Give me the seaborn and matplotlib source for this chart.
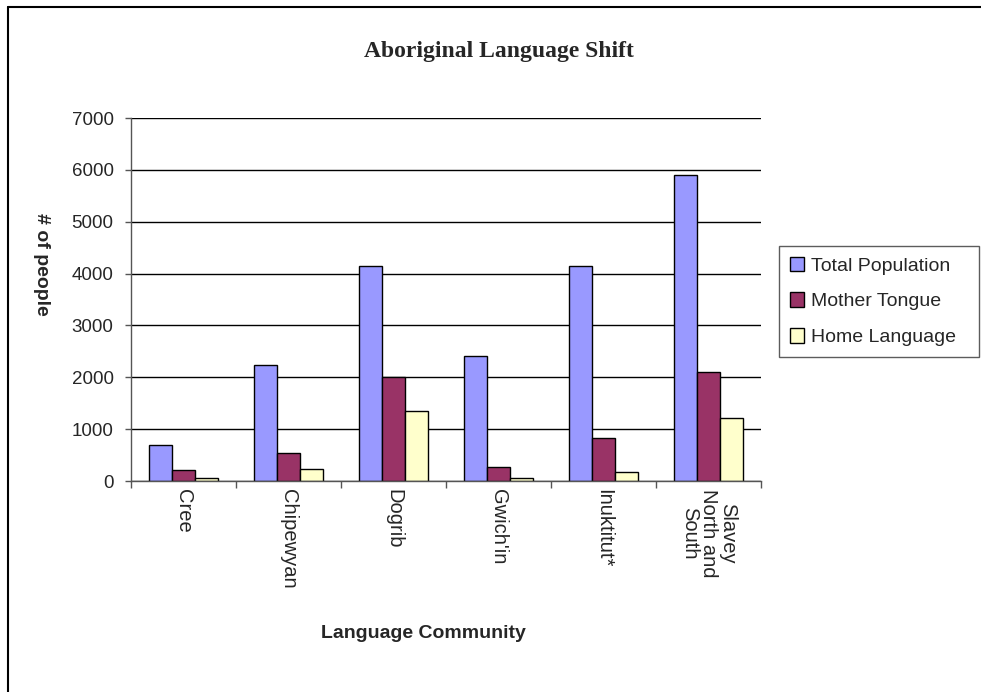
import matplotlib
matplotlib.use("Agg")
import matplotlib.pyplot as plt
import seaborn as sns
import pandas as pd
from matplotlib.lines import Line2D
from matplotlib.ticker import FixedLocator

categories = ["Cree", "Chipewyan", "Dogrib", "Gwich'in", "Inuktitut*", "Slavey\nNorth and\nSouth"]
total_population = [700, 2240, 4150, 2420, 4150, 5900]
mother_tongue = [210, 535, 2000, 265, 835, 2100]
home_language = [50, 230, 1350, 50, 180, 1210]
series_names = ["Total Population", "Mother Tongue", "Home Language"]
colors = ["#9999FF", "#993366", "#FFFFCC"]

rows = []
for s, vals in zip(series_names, [total_population, mother_tongue, home_language]):
    for c, v in zip(categories, vals):
        rows.append({"Language Community": c, "Series": s, "Value": v})
df = pd.DataFrame(rows)

sns.set_theme(style="white")
plt.rcParams['font.family'] = ['Liberation Sans', 'DejaVu Sans']

fig = plt.figure(figsize=(9.81, 6.92), dpi=100)
ax = fig.add_axes([131/981, 1-481/692, (761-131)/981, (481-118)/692])

sns.barplot(data=df, x="Language Community", y="Value", hue="Series",
            palette=colors, order=categories, hue_order=series_names,
            width=0.66, gap=0, edgecolor="black", linewidth=1.0,
            saturation=1, ax=ax, errorbar=None)

ax.set_ylim(0, 7000)
ax.set_xlim(-0.5, len(categories) - 0.5)
ax.set_yticks(range(0, 7001, 1000))
ax.yaxis.grid(True, color="black", linewidth=1.0)
ax.set_axisbelow(True)
for side in ["top", "right"]:
    ax.spines[side].set_visible(False)
for side in ["left", "bottom"]:
    ax.spines[side].set_color("#555555")
    ax.spines[side].set_linewidth(1.0)

ax.tick_params(axis="y", which="major", direction="out", length=4.5, width=1,
               color="#555555", left=True, labelsize=13.5, pad=8)
ax.set_xticks(range(len(categories)))
ax.set_xticklabels(categories, rotation=270, fontsize=14.5, va="top", ha="center",
                   linespacing=1.0)
ax.tick_params(axis="x", which="major", length=0, pad=6)
ax.xaxis.set_minor_locator(FixedLocator([i - 0.5 for i in range(len(categories) + 1)]))
ax.tick_params(axis="x", which="minor", direction="out", length=5, width=1,
               color="#555555", bottom=True)

ax.set_xlabel("")
ax.set_ylabel("")
fig.text(41/981, 1-264/692, "# of people", rotation=270, fontsize=14,
         fontweight="bold", ha="center", va="center")
fig.text(423/981, 1-634/692, "Language Community", fontsize=14,
         fontweight="bold", ha="center", va="center")
fig.text(499/981, 1-51/692, "Aboriginal Language Shift", fontsize=17,
         fontweight="bold", ha="center", va="center",
         family=["Liberation Serif", "DejaVu Serif"])

handles, labels = ax.get_legend_handles_labels()
leg = ax.legend(handles, labels, loc="upper left", mode="expand",
                bbox_to_anchor=(779/981, 1-246/692, 200/981, 0),
                bbox_transform=fig.transFigure,
                frameon=True, fancybox=False, fontsize=14, handlelength=0.75,
                handleheight=0.75, handletextpad=0.35, labelspacing=0.92,
                borderpad=0.55, borderaxespad=0)
leg.get_frame().set_edgecolor("#333333")
leg.get_frame().set_linewidth(1.0)

fig.add_artist(Line2D([8/981, 8/981], [0, 1-7/692], transform=fig.transFigure,
                      color="black", linewidth=1.5))
fig.add_artist(Line2D([8/981, 1], [1-7/692, 1-7/692], transform=fig.transFigure,
                      color="black", linewidth=1.5))

fig.savefig("out.png", dpi=100)
